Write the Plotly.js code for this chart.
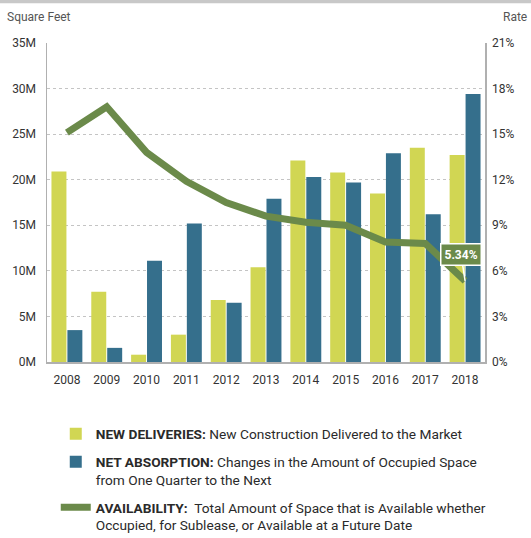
<!DOCTYPE html>
<html><head><meta charset="utf-8">
<script src="https://cdn.plot.ly/plotly-3.0.1.min.js"></script>
<style>html,body{margin:0;padding:0;background:#fff;}#chart{width:531px;height:538px;}</style>
</head><body><div id="chart"></div>
<script>
const years = ['2008','2009','2010','2011','2012','2013','2014','2015','2016','2017','2018'];
const newDeliveries = [20.9, 7.7, 0.8, 3.0, 6.8, 10.4, 22.1, 20.8, 18.5, 23.5, 22.7];
const netAbsorption = [3.5, 1.55, 11.1, 15.2, 6.5, 17.9, 20.3, 19.7, 22.9, 16.2, 29.4];
const availability = [15.1, 16.8, 13.8, 11.9, 10.5, 9.6, 9.2, 9.0, 7.9, 7.8, 5.34];
const leftTickVals = [0, 5, 10, 15, 20, 25, 30, 35];
const leftTickText = ['0M','5M','10M','15M','20M','25M','30M','35M'];
const rightTickVals = [0, 3, 6, 9, 12, 15, 18, 21];
const rightTickText = ['0%','3%','6%','9%','12%','15%','18%','21%'];
const legendNames = [
  '<b>NEW DELIVERIES:</b> New Construction Delivered to the Market',
  '<b>NET ABSORPTION:</b> Changes in the Amount of Occupied Space<br>from One Quarter to the Next',
  '<b>AVAILABILITY:</b>  Total Amount of Space that is Available whether<br>Occupied, for Sublease, or Available at a Future Date'
];
const calloutText = '<b>5.34%</b>';

const FONT = 'Roboto, Liberation Sans, sans-serif';
const YELLOW = '#d1d653', BLUE = '#356f8c', GREEN = '#6b8a4a';

const traces = [
  {type:'bar', x:years, y:newDeliveries, name:legendNames[0], legendgroup:'a',
   marker:{color:YELLOW}, hoverinfo:'skip'},
  {type:'bar', x:years, y:netAbsorption, name:legendNames[1], legendgroup:'b',
   marker:{color:BLUE}, hoverinfo:'skip'},
  {type:'scatter', mode:'lines', x:years, y:availability, yaxis:'y2', name:legendNames[2], legendgroup:'c',
   line:{color:GREEN, width:7}, hoverinfo:'skip'}
];

const last = years.length - 1;
const layout = {
  width:531, height:538,
  margin:{l:47, r:46, t:43, b:176, autoexpand:false},
  paper_bgcolor:'#fff', plot_bgcolor:'#fff',
  font:{family:FONT, size:12, color:'#333'},
  barmode:'group', bargap:0.2, bargroupgap:0.06,
  showlegend:true,
  legend:{x:0.02, xanchor:'left', y:-0.177, yanchor:'top', orientation:'v',
          font:{family:FONT, size:13.7, color:'#2a2a2a'}, valign:'top', tracegroupgap:7,
          bgcolor:'rgba(0,0,0,0)'},
  xaxis:{type:'category', range:[-0.5, years.length - 0.5], showgrid:false, showline:true,
         linecolor:'#b0b0b0', linewidth:1.5,
         ticks:'outside', ticklen:6, tickcolor:'rgba(0,0,0,0)', tickfont:{size:12, color:'#333'},
         zeroline:false, fixedrange:true},
  yaxis:{range:[0,35], tickvals:leftTickVals, ticktext:leftTickText, showgrid:true,
         gridcolor:'#c4c4c4', griddash:'dot', gridwidth:1, showline:true, linecolor:'#b0b0b0', linewidth:1.5,
         ticks:'outside', ticklen:7, tickcolor:'rgba(0,0,0,0)', tickfont:{size:12, color:'#333'},
         zeroline:false, fixedrange:true},
  yaxis2:{range:[0,21], tickvals:rightTickVals, ticktext:rightTickText, overlaying:'y', side:'right',
          showgrid:false, showline:true, linecolor:'#b0b0b0', linewidth:1.5,
          ticks:'outside', ticklen:3, tickcolor:'rgba(0,0,0,0)', tickfont:{size:12, color:'#333'},
          zeroline:false, fixedrange:true},
  shapes:[
    {type:'rect', xref:'paper', yref:'paper', x0:-0.2, x1:1.2, y0:1.125, y1:1.2,
     fillcolor:'#c8c8c8', line:{width:0}}
  ],
  annotations:[
    {xref:'paper', yref:'paper', x:-0.096, y:1.082, xanchor:'left', yanchor:'middle',
     text:'Square Feet', showarrow:false, font:{family:FONT, size:12, color:'#555'}},
    {xref:'paper', yref:'paper', x:1.1, y:1.082, xanchor:'right', yanchor:'middle',
     text:'Rate', showarrow:false, font:{family:FONT, size:12, color:'#555'}},
    {xref:'x', yref:'y2', x:last, y:availability[last], text:calloutText,
     showarrow:true, arrowhead:0, arrowwidth:1.5, arrowcolor:'#ffffff', ax:-4, ay:-26,
     bgcolor:GREEN, bordercolor:'#ffffff', borderwidth:1.5, borderpad:3,
     font:{family:FONT, size:12, color:'#ffffff'}}
  ]
};

Plotly.newPlot('chart', traces, layout, {displayModeBar:false, staticPlot:true});
</script>
</body></html>
